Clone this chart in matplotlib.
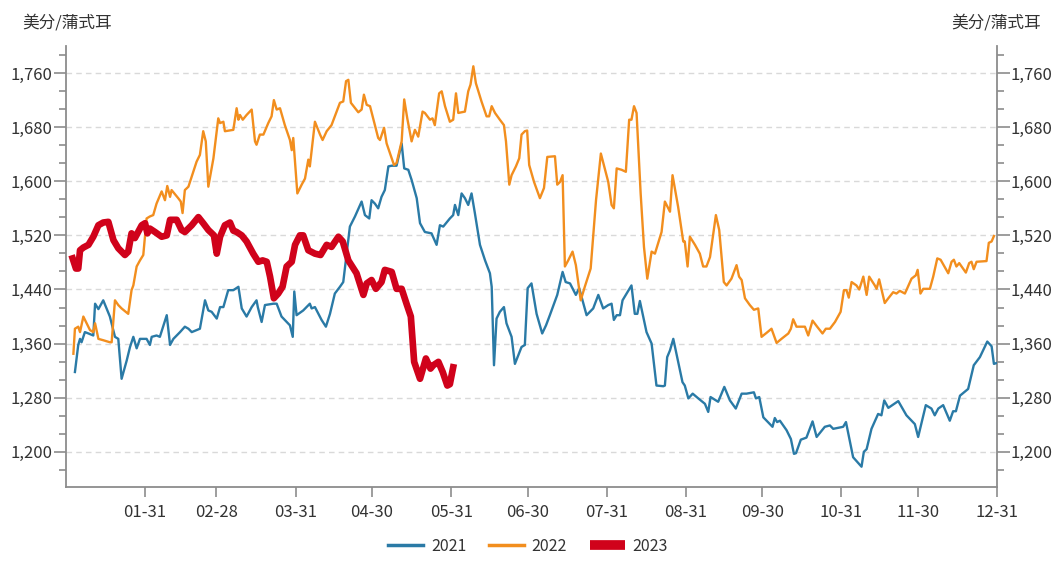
import matplotlib
matplotlib.use("Agg")
import matplotlib.pyplot as plt
from matplotlib.ticker import MultipleLocator, FuncFormatter
from matplotlib.lines import Line2D

plt.rcParams['font.family'] = ['Noto Sans CJK SC', 'DejaVu Sans']

# day of year -> price (US cents / bushel)
days_2021 = [3.5, 4.8, 5.5, 6.1, 7.4, 8.8, 10.7, 11.4, 12.7, 14.6, 17.2, 19.2, 20.5, 21.8, 23.8, 25.1, 26.4, 27.7, 29,
             31.6, 32.9, 33.6, 35.5, 36.8, 39.5, 40.8, 42.1, 44.7, 46.6, 48, 49.3, 52.5, 54.5, 55.8, 57.1, 59.1, 60.4,
             61.7, 63.6, 65.6, 67.6, 68.9, 70.8, 72.8, 74.7, 75.2, 76.7, 78, 81.3, 82.6, 84.5, 86.5, 87.8, 88.9, 89.5,
             90.4, 93, 95.6, 96.3, 97.6, 100.2, 101.9, 103.5, 105.4, 107.4, 108.7, 111.3, 113.3, 115.9, 117.2, 118.9,
             119.8, 121.1, 122.4, 123.7, 125, 126.4, 127.7, 129.6, 131.6, 132.6, 134.2, 135.5, 137.5, 138.8, 140.7,
             143.3, 145.3, 146.6, 147.9, 150.5, 151.8, 152.5, 153.8, 155.1, 156.4, 157.7, 159, 160.3, 162.3, 164.3,
             166.2, 166.9, 167.8, 168.8, 170.1, 171.7, 172.7, 174.7, 176, 178.6, 179.9, 181, 182.5, 184.5, 186.7,
             188.2, 189.7, 192.6, 194.7, 195.9, 197.6, 199.9, 201.2, 202.5, 204.1, 206.7, 208.7, 210.6, 212.6, 213.9,
             214.8, 215.9, 217.2, 218.2, 221.7, 223, 224, 225, 227.6, 229.6, 231.5, 234.2, 234.8, 235.7, 236.8,
             238.1, 240, 241.7, 242.6, 244, 245.7, 247.9, 250.5, 251.8, 252.7, 255.7, 258.1, 260.3, 262.6, 264.9,
             266.8, 269.7, 270.5, 271.8, 273.4, 277, 277.9, 278.8, 279.9, 282.5, 284.2, 285.4, 286.2, 288.1, 290.3,
             292.7, 294.3, 297.5, 299.5, 300.8, 304.7, 305.8, 308.6, 311.9, 312.8, 313.9, 315.8, 318.4, 319.7, 320.8,
             322.4, 326.3, 329.5, 332.8, 334.1, 337.1, 339.3, 340.6, 342, 343.9, 346.5, 347.8, 348.9, 350.5, 353.7,
             355.9, 358.3, 361.2, 362.9, 363.8, 364.6]
price_2021 = [1318, 1358, 1367, 1362, 1377, 1375, 1372, 1419, 1411, 1424, 1400, 1370, 1367, 1308, 1335, 1355, 1370, 1353,
              1367, 1367, 1358, 1370, 1372, 1370, 1402, 1358, 1367, 1377, 1385, 1382, 1377, 1382, 1424, 1409, 1407,
              1397, 1414, 1414, 1439, 1439, 1444, 1412, 1400, 1414, 1424, 1414, 1392, 1417, 1419, 1419, 1400, 1392,
              1387, 1370, 1437, 1402, 1409, 1419, 1412, 1414, 1395, 1385, 1404, 1434, 1444, 1451, 1533, 1548, 1570,
              1550, 1545, 1572, 1567, 1560, 1577, 1587, 1622, 1623, 1623, 1656, 1619, 1617, 1602, 1575, 1538, 1525,
              1523, 1506, 1535, 1533, 1545, 1550, 1565, 1550, 1582, 1575, 1565, 1582, 1553, 1506, 1483, 1464, 1444,
              1328, 1397, 1407, 1414, 1390, 1370, 1330, 1355, 1358, 1442, 1449, 1404, 1375, 1387, 1402, 1432, 1466,
              1451, 1449, 1432, 1442, 1424, 1402, 1412, 1432, 1412, 1417, 1419, 1395, 1402, 1402, 1424, 1446, 1404,
              1404, 1423, 1377, 1360, 1298, 1297, 1298, 1340, 1350, 1367, 1333, 1303, 1298, 1279, 1286, 1279, 1271,
              1259, 1281, 1274, 1296, 1276, 1264, 1286, 1286, 1288, 1279, 1281, 1251, 1237, 1250, 1244, 1246, 1232,
              1219, 1197, 1198, 1218, 1221, 1245, 1222, 1237, 1239, 1234, 1237, 1244, 1192, 1178, 1200, 1204, 1234,
              1256, 1254, 1276, 1265, 1275, 1254, 1241, 1222, 1269, 1264, 1254, 1264, 1269, 1246, 1260, 1260, 1283,
              1293, 1328, 1340, 1363, 1356, 1330, 1331]

days_2022 = [2.9, 3.5, 4.8, 5.5, 6.8, 8.1, 9.4, 10.7, 11.4, 12.7, 14.6, 17.2, 17.9, 19.2, 20.5, 21.8, 24.4, 25.7, 26.4,
             27.7, 29, 30.3, 31.6, 32.9, 34.2, 35.5, 37.5, 38.8, 39.7, 40.8, 41.4, 44, 45, 45.7, 46.6, 48, 51.2, 52.5,
             53.8, 54.8, 55.8, 57.8, 59.7, 60.4, 61.7, 62.3, 65.6, 66.9, 67.6, 68.2, 69.3, 70.8, 72.8, 74.1, 74.7, 76,
             77.4, 79.3, 80.6, 81.5, 82.6, 83.9, 85.8, 87.8, 88.5, 89.1, 90.7, 92.4, 93.7, 95, 95.6, 97.6, 99.6, 100.6,
             102.2, 104.1, 107.4, 108.7, 109.8, 110.7, 111.7, 114.6, 115.9, 116.8, 117.9, 119.2, 122.4, 123.1, 124.7,
             125.7, 128.6, 129.6, 131.6, 132.6, 133.8, 135.5, 136.8, 138.1, 139.8, 140.7, 142.7, 143.7, 144.6, 146.3,
             147.3, 148.6, 150.5, 151.8, 152.9, 153.8, 156.4, 157.7, 158.6, 159.7, 160.7, 162.9, 164.9, 165.9, 166.9,
             168.2, 170.1, 171.7, 172.5, 173.8, 174.7, 176.4, 177.7, 178.6, 179.9, 180.8, 181.6, 183.5, 185.8, 187.4,
             188.7, 191.7, 192.6, 193.7, 194.7, 195.6, 196.9, 198.6, 199.9, 201.8, 203.4, 205.7, 207.8, 209.7, 211.7,
             212.6, 213.9, 214.8, 215.9, 217.8, 219.5, 220.8, 221.7, 222.7, 223.7, 225.3, 226.6, 227.9, 229.6, 230.9,
             233.5, 234.8, 236.8, 237.8, 240, 242, 242.6, 243.7, 244.6, 246.6, 248.5, 249.8, 251.1, 252.5, 254.8,
             256.1, 257.9, 259, 260.9, 262.9, 263.9, 264.9, 266.2, 268.1, 269.7, 271.4, 272.7, 274.7, 276.6, 278.6,
             280.5, 283.2, 284.2, 285.1, 286.4, 289.7, 291, 292.7, 294.5, 296.6, 297.9, 299.5, 301.5, 303.7, 305, 306,
             306.9, 308, 309.9, 311, 312.6, 313.9, 314.9, 317.1, 317.8, 318.8, 321, 322.4, 324.3, 325.6, 326.9, 328.9,
             331.5, 333.2, 333.9, 335, 336.1, 338.7, 340, 341.6, 342.9, 345.9, 347.2, 348.1, 349.1, 350.2, 352.8,
             354.1, 355, 355.9, 357, 360.9, 361.8, 362.9, 363.8]
price_2022 = [1345, 1382, 1385, 1377, 1400, 1390, 1380, 1377, 1390, 1367, 1365, 1362, 1362, 1424, 1417, 1412, 1404, 1439,
              1446, 1474, 1483, 1491, 1545, 1548, 1550, 1567, 1585, 1572, 1593, 1577, 1587, 1575, 1570, 1553, 1587,
              1592, 1629, 1639, 1674, 1659, 1592, 1634, 1693, 1686, 1688, 1674, 1676, 1708, 1691, 1698, 1691, 1698,
              1706, 1659, 1654, 1669, 1669, 1686, 1696, 1720, 1706, 1708, 1683, 1661, 1646, 1664, 1582, 1595, 1604,
              1632, 1622, 1688, 1669, 1661, 1674, 1683, 1716, 1718, 1748, 1750, 1716, 1702, 1706, 1728, 1713, 1711,
              1664, 1661, 1679, 1656, 1624, 1627, 1659, 1721, 1693, 1659, 1676, 1666, 1703, 1701, 1691, 1693, 1683,
              1730, 1733, 1711, 1688, 1691, 1730, 1701, 1703, 1733, 1743, 1770, 1745, 1718, 1696, 1696, 1711, 1701,
              1691, 1683, 1659, 1595, 1609, 1622, 1634, 1669, 1674, 1675, 1624, 1599, 1575, 1590, 1636, 1637, 1595,
              1599, 1609, 1474, 1483, 1496, 1476, 1424, 1444, 1471, 1572, 1641, 1612, 1599, 1565, 1560, 1619, 1617,
              1614, 1691, 1691, 1711, 1701, 1582, 1503, 1456, 1496, 1493, 1525, 1570, 1555, 1609, 1562, 1511, 1511,
              1474, 1518, 1506, 1493, 1474, 1474, 1488, 1550, 1528, 1451, 1446, 1456, 1476, 1459, 1454, 1427, 1417,
              1410, 1412, 1370, 1376, 1382, 1361, 1367, 1375, 1382, 1396, 1385, 1385, 1372, 1394, 1385, 1375, 1382,
              1382, 1392, 1407, 1439, 1439, 1428, 1451, 1446, 1440, 1459, 1432, 1459, 1446, 1441, 1455, 1420, 1427,
              1436, 1434, 1438, 1434, 1456, 1461, 1469, 1434, 1441, 1441, 1459, 1486, 1484, 1464, 1481, 1484, 1474,
              1479, 1465, 1479, 1481, 1470, 1481, 1482, 1509, 1511, 1519]

days_2023 = [2.6, 3.9, 4.8, 5.5, 6.8, 8.8, 10.7, 12.7, 14.6, 16.6, 18.6, 20.5, 23.1, 24.4, 25.7, 27, 29.7, 31, 31.9,
             32.9, 34.9, 37.5, 39.5, 40.8, 43.4, 45.3, 46.6, 49.3, 51.9, 53.8, 55.8, 58, 59.1, 60.4, 62.3, 64.3, 65.6,
             66.9, 68.9, 70.8, 73.4, 75.4, 77.1, 78.7, 80, 81.5, 83.2, 84.9, 86.5, 88.5, 89.8, 91.7, 93, 95, 97.6,
             99.8, 102.2, 104.1, 106.8, 108.5, 110.7, 113.9, 116.6, 117.9, 119.8, 121.5, 123.7, 125, 127.7, 129.6,
             131.6, 133.5, 135.2, 136.5, 138.8, 141.1, 142.9, 144, 146, 147.7, 149.5, 150.5, 151.8]
price_2023 = [1486, 1471, 1471, 1498, 1502, 1506, 1518, 1535, 1539, 1540, 1513, 1501, 1491, 1496, 1523, 1516, 1535, 1538,
              1523, 1530, 1525, 1518, 1520, 1543, 1543, 1528, 1525, 1535, 1547, 1538, 1528, 1520, 1493, 1518, 1535,
              1539, 1527, 1525, 1520, 1511, 1493, 1481, 1483, 1481, 1459, 1427, 1434, 1444, 1474, 1481, 1506, 1520,
              1520, 1498, 1493, 1491, 1506, 1503, 1518, 1511, 1483, 1464, 1432, 1449, 1454, 1441, 1451, 1469, 1466,
              1441, 1441, 1419, 1400, 1333, 1308, 1338, 1323, 1328, 1333, 1318, 1298, 1300, 1325]

month_end_days = [31, 59, 90, 120, 151, 181, 212, 243, 273, 304, 334, 365]
month_end_labels = ['01-31', '02-28', '03-31', '04-30', '05-31', '06-30',
                    '07-31', '08-31', '09-30', '10-31', '11-30', '12-31']

c21 = '#2a7aa6'
c22 = '#f28e1e'
c23 = '#d0021b'
axis_c = '#8c8c8c'
text_c = '#333333'

fig = plt.figure(figsize=(10.56, 5.72), dpi=100)
ax = fig.add_axes([0.0625, 0.1486, 0.8816, 0.771])

ax.plot(days_2021, price_2021, color=c21, lw=1.7, zorder=3)
ax.plot(days_2022, price_2022, color=c22, lw=1.7, zorder=3)
ax.plot(days_2023, price_2023, color=c23, lw=4.8, zorder=4)

ax.set_xlim(0, 365)
ax.set_ylim(1148, 1800)

ax.set_xticks(month_end_days)
ax.set_xticklabels(month_end_labels)
ax.yaxis.set_major_locator(MultipleLocator(80))
ax.yaxis.set_minor_locator(MultipleLocator(80 / 3))
ax.yaxis.set_major_formatter(FuncFormatter(lambda v, p: f'{int(round(v)):,}'))

ax.grid(axis='y', which='major', color='#d9d9d9', ls=(0, (4, 3)), lw=1)
ax.set_axisbelow(True)

for s in ['left', 'right', 'bottom']:
    ax.spines[s].set_color(axis_c)
    ax.spines[s].set_linewidth(1.3)
ax.spines['top'].set_visible(False)

ax.tick_params(axis='y', which='major', direction='out', length=9, width=1.2, color=axis_c,
               labelsize=12, labelcolor=text_c, left=True, right=True, labelleft=True, labelright=True, pad=1)
ax.tick_params(axis='y', which='minor', direction='out', length=5, width=1.2, color=axis_c, left=True, right=True)
ax.tick_params(axis='x', which='major', direction='out', length=7, width=1.2, color=axis_c,
               labelsize=12, labelcolor=text_c, pad=5)

fig.text(0.021, 0.959, '美分/蒲式耳', fontsize=12, color=text_c, va='center', ha='left')
fig.text(0.986, 0.959, '美分/蒲式耳', fontsize=12, color=text_c, va='center', ha='right')

handles = [Line2D([], [], color=c21, lw=2.5),
           Line2D([], [], color=c22, lw=2.5),
           Line2D([], [], color=c23, lw=7, solid_capstyle='butt')]
fig.legend(handles, ['2021', '2022', '2023'], loc='center', bbox_to_anchor=(0.5, 0.045), ncol=3,
           frameon=False, fontsize=11.5, handlelength=2.2, columnspacing=1.4, handletextpad=0.5,
           labelcolor=text_c)

fig.savefig('out.png', dpi=100)
